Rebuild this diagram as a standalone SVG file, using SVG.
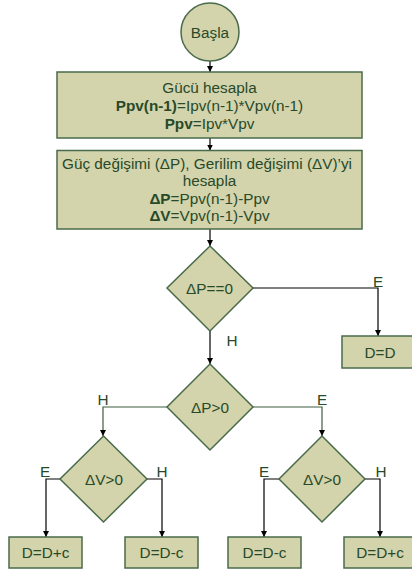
<svg xmlns="http://www.w3.org/2000/svg" width="412" height="573" viewBox="0 0 412 573">
  <style>
    .shape { fill: #d3d3ac; stroke: #4a6b4a; stroke-width: 1.5; }
    .txt { font-family: "Liberation Sans", Arial, sans-serif; font-size: 15.3px; fill: #284a28; text-anchor: middle; }
    .b { font-weight: bold; }
    .wire { fill: none; stroke: #000; stroke-width: 1.2; marker-end: url(#arrow); }
    .wire.g { stroke: #3f5f3f; }
  </style>
  <defs>
    <marker id="arrow" viewBox="0 0 10 10" refX="10" refY="5" markerWidth="6" markerHeight="6" markerUnits="userSpaceOnUse" orient="auto">
      <path d="M0,0 L10,5 L0,10 z" fill="#000"/>
    </marker>
  </defs>
  <rect width="412" height="573" fill="#fff"/>

  <!-- connectors -->
  <g id="connectors">
    <path class="wire" d="M210,61 V72"/>
    <path class="wire" d="M210,138 V150.5"/>
    <path class="wire" d="M210,229 V246"/>
    <path class="wire" d="M210,331 V364"/>
    <path class="wire" d="M253,288 H378 V336"/>
    <path class="wire g" d="M167,407 H103 V436"/>
    <path class="wire g" d="M253,407 H322 V436"/>
    <path class="wire" d="M60,479 H46 V537"/>
    <path class="wire" d="M147,479 H162 V537"/>
    <path class="wire" d="M279,479 H264 V537"/>
    <path class="wire" d="M365,479 H380 V537"/>
  </g>

  <!-- branch labels -->
  <g id="labels" class="txt">
    <text x="378" y="287">E</text>
    <text x="232" y="346">H</text>
    <text x="103" y="405">H</text>
    <text x="322" y="405">E</text>
    <text x="45" y="477">E</text>
    <text x="162" y="477">H</text>
    <text x="264" y="477">E</text>
    <text x="381" y="477">H</text>
  </g>

  <g id="start">
    <circle class="shape" cx="210" cy="32" r="29"/>
    <text class="txt" x="210" y="37.5">Başla</text>
  </g>

  <g id="power">
    <rect class="shape" x="57" y="72" width="305" height="66"/>
    <text class="txt" x="209.5" y="92.5">Gücü hesapla</text>
    <text class="txt" x="209.5" y="110.5"><tspan class="b">Ppv(n-1)</tspan>=Ipv(n-1)*Vpv(n-1)</text>
    <text class="txt" x="209.5" y="128.5"><tspan class="b">Ppv</tspan>=Ipv*Vpv</text>
  </g>

  <g id="delta">
    <rect class="shape" x="57" y="150.5" width="305" height="78.5"/>
    <text class="txt" x="207" y="168.5">Güç değişimi (ΔP), Gerilim değişimi (ΔV)’yi</text>
    <text class="txt" x="209.5" y="186">hesapla</text>
    <text class="txt" x="209.5" y="203.5"><tspan class="b">ΔP</tspan>=Ppv(n-1)-Ppv</text>
    <text class="txt" x="209.5" y="221"><tspan class="b">ΔV</tspan>=Vpv(n-1)-Vpv</text>
  </g>

  <g id="dp-zero">
    <path class="shape" d="M210,246 L253,288 L210,331 L167,288 z"/>
    <text class="txt" x="209.5" y="293.5">ΔP==0</text>
  </g>

  <g id="keep">
    <rect class="shape" x="342" y="336" width="72" height="32"/>
    <text class="txt" x="380" y="357.5">D=D</text>
  </g>

  <g id="dp-pos">
    <path class="shape" d="M210,364 L253,407 L210,450 L167,407 z"/>
    <text class="txt" x="210" y="412.5">ΔP&gt;0</text>
  </g>

  <g id="dv-left">
    <path class="shape" d="M103.5,436 L147,479 L103.5,522 L60,479 z"/>
    <text class="txt" x="104" y="484.5">ΔV&gt;0</text>
  </g>

  <g id="dv-right">
    <path class="shape" d="M322,436 L365,479 L322,522 L279,479 z"/>
    <text class="txt" x="322" y="484.5">ΔV&gt;0</text>
  </g>

  <g id="inc-a">
    <rect class="shape" x="9" y="537" width="73" height="31"/>
    <text class="txt" x="45.5" y="558">D=D+c</text>
  </g>
  <g id="dec-a">
    <rect class="shape" x="125" y="537" width="73" height="31"/>
    <text class="txt" x="161.5" y="558">D=D-c</text>
  </g>
  <g id="dec-b">
    <rect class="shape" x="228" y="537" width="73" height="31"/>
    <text class="txt" x="264.5" y="558">D=D-c</text>
  </g>
  <g id="inc-b">
    <rect class="shape" x="344" y="537" width="73" height="31"/>
    <text class="txt" x="380" y="558">D=D+c</text>
  </g>
</svg>
